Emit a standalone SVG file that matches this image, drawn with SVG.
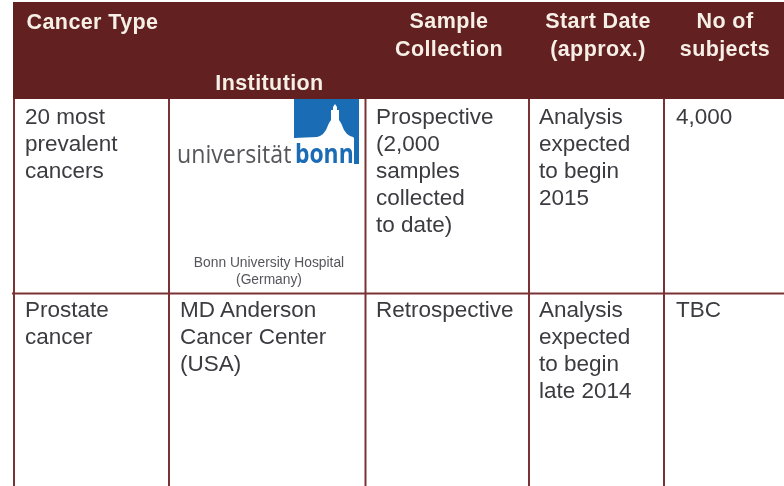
<svg xmlns="http://www.w3.org/2000/svg" width="784" height="486" viewBox="0 0 784 486">
<style>
text{font-family:"Liberation Sans",Arial,sans-serif}
.b{font-size:22.5px;fill:#3a3a40}
.h{font-size:21.5px;font-weight:700;fill:#f6efe6;text-anchor:middle;letter-spacing:.4px}
.g{stroke:#7a3234;stroke-width:2;fill:none}
.s{font-size:13.8px;fill:#55555c;text-anchor:middle}
.o{font-family:"Open Sans",sans-serif;font-size:26px}
</style>
<defs><filter id="soft" x="-5%" y="-20%" width="110%" height="140%"><feGaussianBlur stdDeviation="0.45"/></filter></defs>
<rect width="784" height="486" fill="#fff"/>
<g id="header"><rect x="13" y="2" width="771" height="97" fill="#622021"/></g>
<g id="connectors" class="g">
<path d="M14 99V486M169 99V486M365.500 99V486M529 99V486M664 99V486"/>
<path d="M12 293.500H784"/>
</g>
<g id="header-labels" filter="url(#soft)">
<text class="h" x="92.500" y="29">Cancer Type</text>
<text class="h" x="269.500" y="90">Institution</text>
<text class="h" x="449" y="28">Sample</text>
<text class="h" x="449" y="56">Collection</text>
<text class="h" x="598" y="28">Start Date</text>
<text class="h" x="598" y="56">(approx.)</text>
<text class="h" x="725" y="28">No  of</text>
<text class="h" x="725" y="56">subjects</text>
</g>
<g id="logo">
<path fill="#1a6cb5" d="M294 99H359V164H354V138L353 137L350 136L347 134L344 130L341 123L339 120V110H337V107L335 104L333 107V110H331V120L329 123L326 130L323 134L320 136L317 137L294 138Z"/>
<g filter="url(#soft)">
<text class="o" transform="translate(177 163) scale(.89 1)" fill="#55565a">universität</text>
<text class="o" transform="translate(295 163) scale(.88 1)" font-weight="700" fill="#1a6cb5">bonn</text>
</g>
</g>
<g id="row1" filter="url(#soft)">
<text class="b" x="25" y="123.500">20 most</text>
<text class="b" x="25" y="150.500">prevalent</text>
<text class="b" x="25" y="177.500">cancers</text>
<text class="s" x="269" y="267">Bonn University Hospital</text>
<text class="s" x="269" y="284">(Germany)</text>
<text class="b" x="376" y="123.500">Prospective</text>
<text class="b" x="376" y="150.500">(2,000</text>
<text class="b" x="376" y="177.500">samples</text>
<text class="b" x="376" y="204.500">collected</text>
<text class="b" x="376" y="231.500">to date)</text>
<text class="b" x="539" y="123.500">Analysis</text>
<text class="b" x="539" y="150.500">expected</text>
<text class="b" x="539" y="177.500">to begin</text>
<text class="b" x="539" y="204.500">2015</text>
<text class="b" x="676" y="123.500">4,000</text>
</g>
<g id="row2" filter="url(#soft)">
<text class="b" x="25" y="317">Prostate</text>
<text class="b" x="25" y="344">cancer</text>
<text class="b" x="180" y="317">MD Anderson</text>
<text class="b" x="180" y="344">Cancer Center</text>
<text class="b" x="180" y="371">(USA)</text>
<text class="b" x="376" y="317">Retrospective</text>
<text class="b" x="539" y="317">Analysis</text>
<text class="b" x="539" y="344">expected</text>
<text class="b" x="539" y="371">to begin</text>
<text class="b" x="539" y="398">late 2014</text>
<text class="b" x="676" y="317">TBC</text>
</g>
</svg>
